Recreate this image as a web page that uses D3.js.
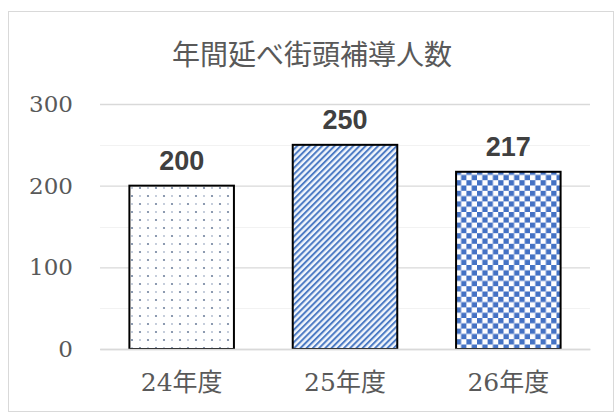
<!DOCTYPE html>
<html><head><meta charset="utf-8">
<script src="https://cdn.jsdelivr.net/npm/d3@7"></script>
<style>html,body{margin:0;padding:0;background:#fff;}</style>
</head><body>
<svg id="c" width="616" height="415"></svg>
<script>
const title = "年間延べ街頭補導人数";
const categories = ["24年度", "25年度", "26年度"];
const values = [200, 250, 217];
const patterns = ["dots", "diag", "check"];
const yTicks = [0, 100, 200, 300];
const yMinorTicks = [50, 150, 250];

const serifStack = "'DejaVu Serif', 'Liberation Serif', 'Noto Sans CJK JP', serif";

const svg = d3.select("#c");
const defs = svg.append("defs");

// dots pattern
const pd = defs.append("pattern").attr("id","dots").attr("patternUnits","userSpaceOnUse")
  .attr("width",16).attr("height",16);
pd.append("rect").attr("width",16).attr("height",16).attr("fill","#fff");
[[4,4],[12,12]].forEach(([x,y])=>pd.append("circle").attr("cx",x).attr("cy",y).attr("r",1.1).attr("fill","#71829e"));
[[12,4],[4,12]].forEach(([x,y])=>pd.append("circle").attr("cx",x).attr("cy",y).attr("r",0.9).attr("fill","#aab7cc"));

// diagonal stripes
const ps = defs.append("pattern").attr("id","diag").attr("patternUnits","userSpaceOnUse")
  .attr("width",4.4).attr("height",4.4).attr("patternTransform","rotate(45)");
ps.append("rect").attr("width",4.4).attr("height",4.4).attr("fill","#f2f6fc");
ps.append("rect").attr("width",2).attr("height",4.4).attr("fill","#4d7bc4");

// checkerboard
const pc = defs.append("pattern").attr("id","check").attr("patternUnits","userSpaceOnUse")
  .attr("width",10.6).attr("height",10.6);
pc.append("rect").attr("width",10.6).attr("height",10.6).attr("fill","#fff");
pc.append("rect").attr("width",5.3).attr("height",5.3).attr("fill","#4472c4");
pc.append("rect").attr("x",5.3).attr("y",5.3).attr("width",5.3).attr("height",5.3).attr("fill","#4472c4");

// chart border
svg.append("rect").attr("x",8.5).attr("y",11.5).attr("width",605).attr("height",400)
  .attr("fill","#fff").attr("stroke","#d9d9d9").attr("stroke-width",1);

const x = d3.scaleBand().domain(categories).range([100, 590]).paddingInner(0.36).paddingOuter(0.18);
const y = d3.scaleLinear().domain([0, 300]).range([349, 104]);

// minor gridlines
svg.append("g").selectAll("line").data(yMinorTicks).join("line")
  .attr("x1",100).attr("x2",590).attr("y1",d=>Math.round(y(d))+0.5).attr("y2",d=>Math.round(y(d))+0.5)
  .attr("stroke","#f2f2f2").attr("stroke-width",1);

// y axis
const yAxis = d3.axisLeft(y).tickValues(yTicks).tickSize(-490).tickPadding(27);
const gy = svg.append("g").attr("transform","translate(100,0)").call(yAxis);
gy.attr("font-family", null);
gy.select(".domain").remove();
gy.selectAll(".tick line").attr("stroke","#d9d9d9").attr("stroke-width",1.3);
gy.selectAll(".tick text").attr("fill","#595959").style("font-family",serifStack)
  .style("font-size","23px");

// bars
svg.append("g").selectAll("rect").data(values).join("rect")
  .attr("x",(d,i)=>x(categories[i])).attr("width",x.bandwidth())
  .attr("y",d=>y(d)).attr("height",d=>y(0)-y(d))
  .attr("fill",(d,i)=>`url(#${patterns[i]})`)
  .attr("stroke","#000").attr("stroke-width",2);

// x axis
const xAxis = d3.axisBottom(x).tickSize(0).tickPadding(24);
const gx = svg.append("g").attr("transform","translate(0,349)").call(xAxis);
gx.attr("font-family", null);
gx.select(".domain").attr("stroke","#d9d9d9").attr("stroke-width",1.3);
gx.selectAll(".tick text").attr("fill","#595959")
  .style("font-family",serifStack).style("font-size","25px");

// data labels
svg.append("g").selectAll("text").data(values).join("text")
  .attr("x",(d,i)=>x(categories[i])+x.bandwidth()/2).attr("y",d=>y(d)-16)
  .attr("text-anchor","middle").attr("fill","#404040")
  .style("font-family","'Liberation Sans', Arial, sans-serif").style("font-weight","bold").style("font-size","27px")
  .text(d=>d);

// title
svg.append("text").attr("x",312).attr("y",65).attr("text-anchor","middle")
  .attr("fill","#595959").style("font-family","'Noto Sans CJK JP', sans-serif").style("font-size","28px")
  .text(title);
</script>
</body></html>
